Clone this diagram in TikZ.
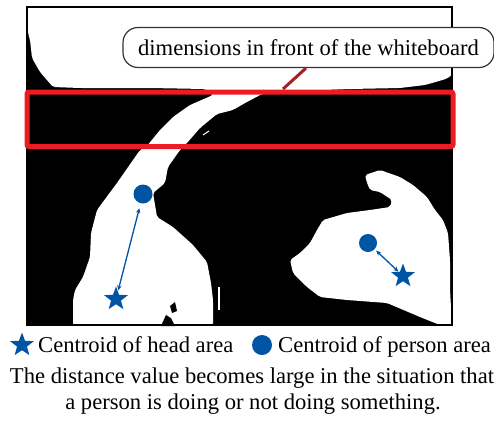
\documentclass[tikz,border=0pt]{standalone}
\usepackage{fontspec}
\setmainfont{Liberation Serif}
\usetikzlibrary{shapes.geometric,arrows.meta}
\definecolor{mkblue}{RGB}{0,84,164}
\definecolor{roired}{RGB}{236,28,36}
\definecolor{leadred}{RGB}{165,32,36}
\begin{document}
\begin{tikzpicture}[x=1pt,y=-1pt,
  dot/.style={circle,fill=mkblue,inner sep=0pt,minimum size=19pt},
  starmk/.style={star,star points=5,star point ratio=2.4,fill=mkblue,inner sep=0pt,minimum size=25pt},
  dist/.style={draw=mkblue,line width=1.3pt,{Stealth[length=5pt,width=4.5pt]}-{Stealth[length=5pt,width=4.5pt]}},
  blob/.style={fill=white,draw=none,rounded corners=2pt},
  txt/.style={font=\fontsize{22.6}{27}\selectfont,inner sep=0pt}
]
\useasboundingbox (0,0) rectangle (494,421);
% photo background
\fill[black] (27,7) rectangle (452,325);
% top white region + band + left person
\fill[blob] (27.5,7) -- (452,7) -- (452,75) -- (446,79) -- (425,85) -- (400,88) -- (350,89) -- (300,91) -- (262,94)
  -- (245,103) -- (233,110) -- (217,114) -- (200,128) -- (187,143) -- (180,150) -- (168,167) -- (165,183)
  -- (153,193) -- (157,217) -- (173,227) -- (193,245) -- (207,262) -- (211,283) -- (213,300) -- (213,325)
  -- (73,325) -- (73,300) -- (75,290) -- (83,277) -- (90,257) -- (91,233) -- (97,210) -- (117,183)
  -- (140,150) -- (147,146) -- (160,130) -- (173,117) -- (190,105) -- (213,95) -- (205,89) -- (150,88)
  -- (80,88) -- (53,87) -- (40,72) -- (32,58) -- (30,40) -- (28,33) -- cycle;
% small black notches at bottom of left person
\fill[black] (161,326) -- (166,315) -- (171,318) -- (175,326) -- cycle;
\fill[black] (170,306) -- (175,302) -- (177,311) -- (172,313) -- cycle;
% thin white streaks
\draw[white,line width=1.2pt] (219,287) -- (219,310);
\draw[white,line width=1pt] (203,135) -- (209,131);
% right person
\fill[blob] (365,175) -- (380,170) -- (400,177) -- (413,185) -- (427,197) -- (435,210) -- (443,220) -- (448,233)
  -- (450,260) -- (450,290) -- (452,325) -- (440,325) -- (420,317) -- (387,303) -- (347,300) -- (320,297)
  -- (307,287) -- (293,273) -- (290,260) -- (300,253) -- (310,243) -- (317,230) -- (323,220) -- (347,213)
  -- (370,210) -- (390,207) -- (392,200) -- (380,192) -- (370,190) -- (367,183) -- cycle;
% photo frame
\draw[black,line width=1.3pt] (27,7) rectangle (452,325);
% region of interest
\node (roi) [draw=roired,line width=5pt,rounded corners=2pt,minimum width=426pt,minimum height=54.5pt,inner sep=0pt] at (240,119.25) {};
% callout
\node (note) [draw=black!80,line width=1.2pt,fill=white,rounded corners=15pt,minimum width=371pt,minimum height=40pt,inner sep=0pt,txt] at (308.5,47.5) {dimensions in front of the whiteboard};
\coordinate (lead) at (283,89);
\draw[leadred,line width=3pt] ([xshift=-2.5pt]note.south) -- (lead);
% markers
\node (c1) [dot] at (143,194) {};
\node (s1) [starmk] at (116,299) {};
\node (c2) [dot,minimum size=18pt] at (368,243) {};
\node (s2) [starmk] at (403,276) {};
\draw[dist,shorten <=5pt,shorten >=1pt] (c1) -- (s1);
\draw[dist,shorten <=2pt,shorten >=0pt] (c2) -- (s2);
% legend
\node (ls) [starmk] at (22,345) {};
\node (lt1) [txt,anchor=base west] at (38,352) {Centroid of head area};
\node (lc) [dot,minimum size=20pt] at (262,345) {};
\node (lt2) [txt,anchor=base west] at (278,352) {Centroid of person area};
\node (cap1) [txt,anchor=base] at (252,383) {The distance value becomes large in the situation that};
\node (cap2) [txt,anchor=base] at (253,409) {a person is doing or not doing something.};
\end{tikzpicture}
\end{document}
